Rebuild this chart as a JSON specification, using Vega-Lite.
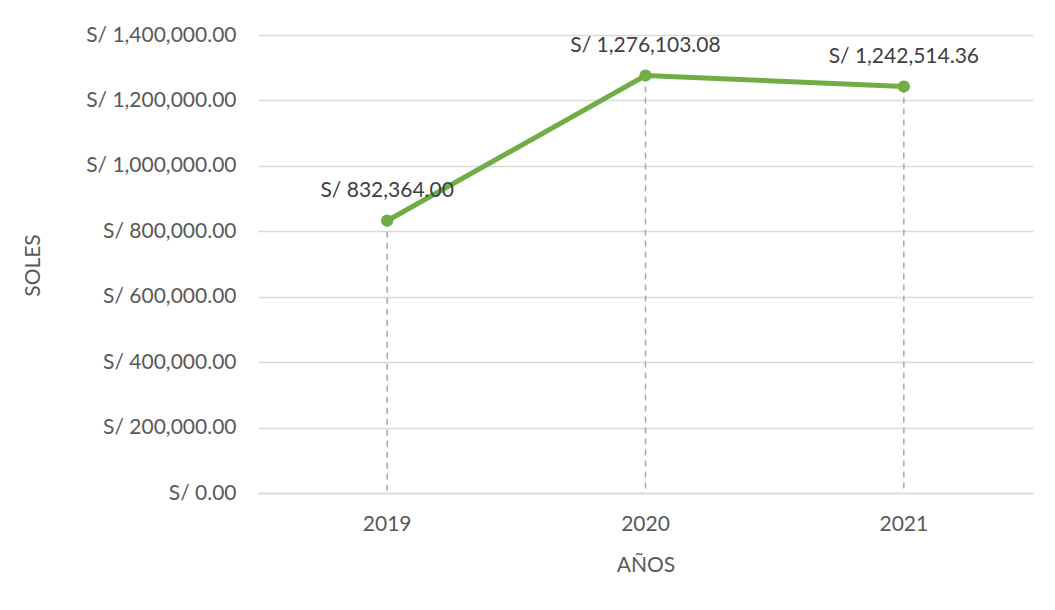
{
  "$schema": "https://vega.github.io/schema/vega-lite/v6.json",
  "width": 775,
  "height": 458,
  "autosize": {"type": "none"},
  "padding": {"left": 258, "top": 35, "right": 22, "bottom": 117},
  "background": "white",
  "config": {
    "view": {"stroke": null},
    "font": "Lato",
    "text": {"font": "Lato"}
  },
  "data": {
    "values": [
      {"year": "2019", "value": 832364.00, "label": "S/ 832,364.00"},
      {"year": "2020", "value": 1276103.08, "label": "S/ 1,276,103.08"},
      {"year": "2021", "value": 1242514.36, "label": "S/ 1,242,514.36"}
    ]
  },
  "encoding": {
    "x": {
      "field": "year", "type": "ordinal",
      "scale": {"type": "band", "paddingInner": 0, "paddingOuter": 0},
      "axis": {
        "title": "AÑOS", "labelAngle": 0, "ticks": false,
        "domainColor": "#D9D9D9", "domainWidth": 1.5,
        "labelColor": "#595959", "labelFontSize": 21, "labelPadding": 20, "labelFont": "Lato",
        "titleColor": "#595959", "titleFontSize": 21, "titleFontWeight": "normal", "titleFont": "Lato",
        "titleY": 72, "titleBaseline": "middle"
      }
    },
    "y": {
      "field": "value", "type": "quantitative",
      "scale": {"domain": [0, 1400000], "nice": false},
      "axis": {
        "title": "SOLES", "values": [0, 200000, 400000, 600000, 800000, 1000000, 1200000, 1400000],
        "labelExpr": "'S/ ' + format(datum.value, ',.2f')",
        "ticks": false, "domain": false,
        "gridColor": "#D9D9D9", "gridWidth": 1.5,
        "labelColor": "#595959", "labelFontSize": 21, "labelPadding": 22, "labelFont": "Lato",
        "titleColor": "#595959", "titleFontSize": 21, "titleFontWeight": "normal", "titleFont": "Lato",
        "titleX": -225, "titleY": 230, "titleAngle": -90, "titleBaseline": "middle", "titleAlign": "center"
      }
    }
  },
  "layer": [
    {
      "mark": {"type": "rule", "stroke": "#A6A6A6", "strokeWidth": 1.5, "strokeDash": [6, 5]},
      "encoding": {"y2": {"datum": 0}}
    },
    {
      "mark": {"type": "line", "color": "#70AD47", "strokeWidth": 5}
    },
    {
      "mark": {"type": "point", "filled": true, "color": "#70AD47", "opacity": 1, "size": 150}
    },
    {
      "mark": {"type": "text", "dy": -30, "fontSize": 21, "color": "#404040", "font": "Lato"},
      "encoding": {"text": {"field": "label"}}
    }
  ]
}
